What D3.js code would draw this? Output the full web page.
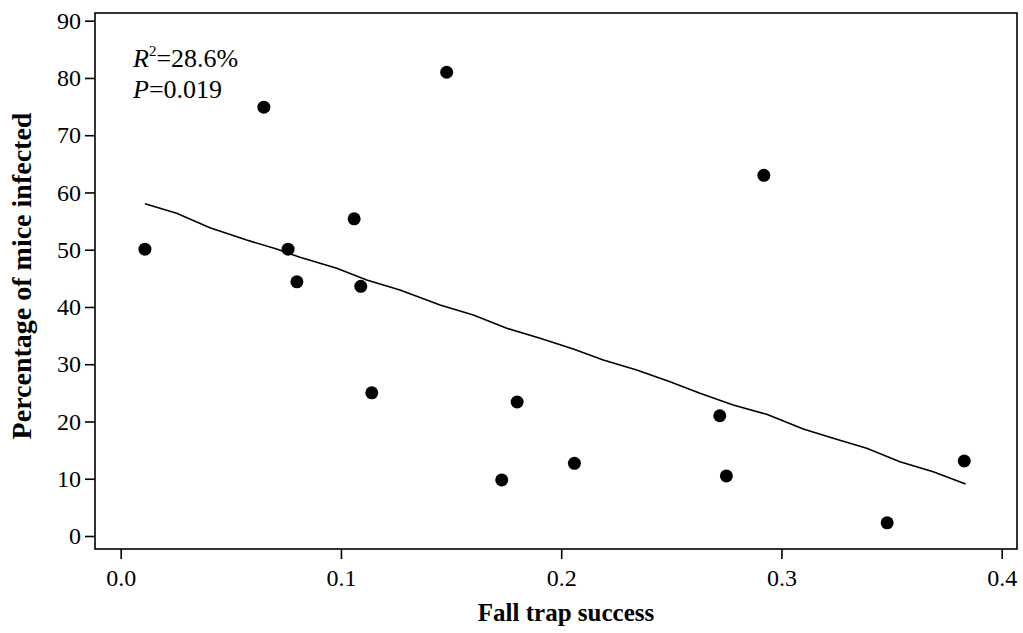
<!DOCTYPE html>
<html>
<head>
<meta charset="utf-8">
<script src="https://cdn.jsdelivr.net/npm/d3@7"></script>
<style>
  html, body { margin: 0; padding: 0; background: #fff; }
  svg { display: block; }
</style>
</head>
<body>
<svg id="chart" width="1023" height="633"></svg>
<script>
// Data
const trapSuccess = [0.011, 0.065, 0.076, 0.080, 0.106, 0.109, 0.114, 0.148, 0.173, 0.180, 0.206, 0.272, 0.275, 0.292, 0.348, 0.383];
const pctInfected = [50.1, 74.9, 50.1, 44.4, 55.4, 43.6, 25.0, 81.0, 9.8, 23.4, 12.7, 21.0, 10.5, 63.0, 2.3, 13.1];

// fitted line as drawn in the figure
const fitX = [0.0110, 0.0254, 0.0405, 0.0572, 0.0708, 0.0814, 0.0981, 0.1117, 0.1268, 0.1450, 0.1601, 0.1753, 0.1904, 0.2055, 0.2191, 0.2343, 0.2494, 0.2630, 0.2781, 0.2933, 0.3099, 0.3235, 0.3387, 0.3538, 0.3689, 0.3836];
const fitY = [58.03, 56.36, 53.84, 51.69, 50.12, 48.67, 46.75, 44.71, 42.96, 40.34, 38.60, 36.27, 34.53, 32.66, 30.74, 28.99, 26.95, 24.92, 22.88, 21.25, 18.69, 17.06, 15.32, 12.98, 11.23, 9.08];

const xTicks = [0, 0.1, 0.2, 0.3, 0.4];
const yTicks = [0, 10, 20, 30, 40, 50, 60, 70, 80, 90];

const xTitle = "Fall trap success";
const yTitle = "Percentage of mice infected";
const r2Text = "=28.6%";
const pText = "=0.019";

const SERIF = "'Liberation Serif'";

const svg = d3.select("#chart").style("font-family", SERIF);

// frame
const frame = { left: 95, right: 1017, top: 13, bottom: 549 };

const x = d3.scaleLinear().domain([0, 0.4]).range([120.7, 1001.7]);
const y = d3.scaleLinear().domain([0, 90]).range([536, 20.7]);

// box
svg.append("rect")
  .attr("x", frame.left).attr("y", frame.top)
  .attr("width", frame.right - frame.left)
  .attr("height", frame.bottom - frame.top)
  .attr("fill", "none").attr("stroke", "#000").attr("stroke-width", 1.6);

// x axis
const xAxis = d3.axisBottom(x).tickValues(xTicks).tickFormat(d3.format(".1f"))
  .tickSize(10).tickPadding(10).tickSizeOuter(0);
const gx = svg.append("g").attr("transform", `translate(0,${frame.bottom})`).call(xAxis)
  .attr("font-family", null).attr("font-size", null);
gx.select(".domain").remove();
gx.selectAll("line").attr("stroke", "#000").attr("stroke-width", 1.6);
gx.selectAll("text").attr("fill", "#000").style("font-family", SERIF).style("font-size", "24px");

// y axis
const yAxis = d3.axisLeft(y).tickValues(yTicks).tickFormat(d3.format("d"))
  .tickSize(10).tickPadding(4).tickSizeOuter(0);
const gy = svg.append("g").attr("transform", `translate(${frame.left},0)`).call(yAxis)
  .attr("font-family", null).attr("font-size", null);
gy.select(".domain").remove();
gy.selectAll("line").attr("stroke", "#000").attr("stroke-width", 1.6);
gy.selectAll("text").attr("fill", "#000").style("font-family", SERIF).style("font-size", "24px");

// fit line
const fitData = fitX.map((d, i) => [d, fitY[i]]);
svg.append("path")
  .datum(fitData)
  .attr("fill", "none").attr("stroke", "#000").attr("stroke-width", 1.6)
  .attr("d", d3.line().x(d => x(d[0])).y(d => y(d[1])));

// points
const pts = trapSuccess.map((d, i) => [d, pctInfected[i]]);
svg.append("g").selectAll("circle").data(pts).join("circle")
  .attr("cx", d => x(d[0])).attr("cy", d => y(d[1]))
  .attr("r", 6.5).attr("fill", "#000");

// annotation
const ann = svg.append("g").style("font-family", SERIF).style("font-size", "26px");
const t1 = ann.append("text").attr("x", 133).attr("y", 67);
t1.append("tspan").style("font-style", "italic").text("R");
t1.append("tspan").style("font-size", "15px").attr("dy", -11).text("2");
t1.append("tspan").attr("dy", 11).text(r2Text);
const t2 = ann.append("text").attr("x", 133).attr("y", 98);
t2.append("tspan").style("font-style", "italic").text("P");
t2.append("tspan").text(pText);

// titles
svg.append("text")
  .attr("x", 566).attr("y", 621)
  .attr("text-anchor", "middle")
  .style("font-family", SERIF).style("font-weight", "bold").style("font-size", "25px")
  .text(xTitle);
svg.append("text")
  .attr("transform", `translate(31,276) rotate(-90)`)
  .attr("text-anchor", "middle")
  .style("font-family", SERIF).style("font-weight", "bold").style("font-size", "28px")
  .text(yTitle);
</script>
</body>
</html>
